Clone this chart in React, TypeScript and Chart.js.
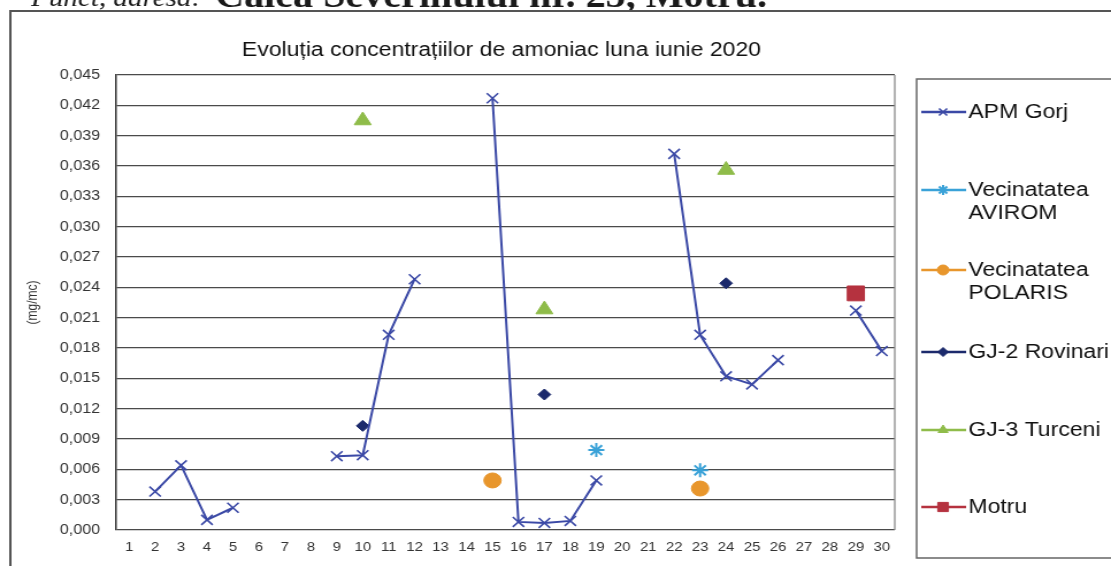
import React, { useEffect, useRef } from 'react';
import { Chart, registerables } from 'chart.js';
import { drawPoint } from 'chart.js/helpers';

Chart.register(...registerables);

// ---- data ----
const DAYS = ['1','2','3','4','5','6','7','8','9','10','11','12','13','14','15','16','17','18','19','20','21','22','23','24','25','26','27','28','29','30'];
const Y_TICKS = [0, 0.003, 0.006, 0.009, 0.012, 0.015, 0.018, 0.021, 0.024, 0.027, 0.030, 0.033, 0.036, 0.039, 0.042, 0.045];

const APM_GORJ = [null, 0.0038, 0.0064, 0.0010, 0.0022, null, null, null, 0.0073, 0.0074, 0.0193, 0.0248, null, null, 0.0427, 0.0008, 0.0007, 0.0009, 0.0049, null, null, 0.0372, 0.0193, 0.0152, 0.0144, 0.0168, null, null, 0.0217, 0.0177];

const AVIROM_DAYS = ['19', '23'];
const AVIROM_VALUES = [0.0079, 0.0059];
const POLARIS_DAYS = ['15', '23'];
const POLARIS_VALUES = [0.0049, 0.0041];
const ROVINARI_DAYS = ['10', '17', '24'];
const ROVINARI_VALUES = [0.0103, 0.0134, 0.0244];
const TURCENI_DAYS = ['10', '17', '24'];
const TURCENI_VALUES = [0.0405, 0.0218, 0.0356];
const MOTRU_DAYS = ['29'];
const MOTRU_VALUES = [0.0234];

const TITLE = 'Evoluția concentrațiilor de amoniac luna iunie 2020';
const Y_TITLE = '(mg/mc)';
const HEADER_LEFT = 'Punct, adresa:';
const HEADER_RIGHT = 'Calea Severinului nr. 25, Motru.';

// ---- layout (internal canvas coordinates; canvas is stretched horizontally) ----
const CANVAS_W = 966;
const CANVAS_H = 566;
const FONT = '"Liberation Sans", Arial, sans-serif';

const pts = (days: string[], vals: number[]) => days.map((d, i) => ({ x: d, y: vals[i] }));

const SERIES = [
  { label: ['APM Gorj'], color: '#3b49a6', style: 'crossRot', radius: 7, legendRadius: 5, bw: 1.6, legendY: 112 },
  { label: ['Vecinatatea', 'AVIROM'], color: '#3aa2d8', style: 'star', radius: 7, legendRadius: 5, bw: 2, legendY: 190 },
  { label: ['Vecinatatea', 'POLARIS'], color: '#e8962c', style: 'circle', radius: 7.5, legendRadius: 5, bw: 1, legendY: 270 },
  { label: ['GJ-2 Rovinari'], color: '#1c2a6c', style: 'rectRot', radius: 5.5, legendRadius: 4.5, bw: 1, legendY: 352 },
  { label: ['GJ-3 Turceni'], color: '#8fbc4a', style: 'triangle', radius: 8.5, legendRadius: 5, bw: 1, legendY: 430 },
  { label: ['Motru'], color: '#b5323f', style: 'rect', radius: 10.5, legendRadius: 6.5, bw: 1, legendY: 507 },
];

const HEADER_FAMILY = '"Liberation Serif", serif';

function fitSize(ctx: CanvasRenderingContext2D, text: string, style: string, width: number) {
  ctx.font = `${style} 20px ${HEADER_FAMILY}`;
  return (20 * width) / ctx.measureText(text).width;
}

const decorPlugin = {
  id: 'decor',
  beforeDraw(chart: any) {
    const ctx = chart.ctx;
    ctx.save();
    ctx.fillStyle = '#ffffff';
    ctx.fillRect(0, 0, chart.width, chart.height);
    // header text of the document (cut off at top)
    ctx.fillStyle = '#1a1a1a';
    ctx.textBaseline = 'alphabetic';
    ctx.textAlign = 'left';
    const sizeR = fitSize(ctx, HEADER_RIGHT, 'bold', 480);
    ctx.font = `bold ${sizeR}px ${HEADER_FAMILY}`;
    ctx.fillText(HEADER_RIGHT, 187, 7);
    const sizeL = fitSize(ctx, HEADER_LEFT, 'italic', 148);
    ctx.font = `italic ${sizeL}px ${HEADER_FAMILY}`;
    ctx.fillText(HEADER_LEFT, 27, 6);
    // outer frame
    ctx.fillStyle = '#ffffff';
    ctx.fillRect(0, 10, chart.width, chart.height);
    ctx.strokeStyle = '#555';
    ctx.lineWidth = 2;
    ctx.beginPath();
    ctx.moveTo(9, CANVAS_H + 5);
    ctx.lineTo(9, 11);
    ctx.lineTo(CANVAS_W + 5, 11);
    ctx.stroke();
    // title
    ctx.fillStyle = '#111';
    ctx.font = `20px ${FONT}`;
    ctx.textAlign = 'center';
    ctx.textBaseline = 'middle';
    ctx.fillText(TITLE, 436, 50);
    ctx.restore();
  },
  beforeDatasetsDraw(chart: any) {
    const { ctx, chartArea } = chart;
    ctx.save();
    ctx.strokeStyle = '#8a8a8a';
    ctx.lineWidth = 1.3;
    ctx.beginPath();
    ctx.moveTo(chartArea.right, chartArea.top);
    ctx.lineTo(chartArea.right, chartArea.bottom);
    ctx.stroke();
    ctx.restore();
  },
  afterDraw(chart: any) {
    const ctx = chart.ctx;
    ctx.save();
    // legend box
    ctx.strokeStyle = '#666';
    ctx.lineWidth = 1.5;
    ctx.beginPath();
    ctx.moveTo(CANVAS_W + 5, 79);
    ctx.lineTo(797, 79);
    ctx.lineTo(797, 558);
    ctx.lineTo(CANVAS_W + 5, 558);
    ctx.stroke();
    SERIES.forEach((s) => {
      const y = s.legendY;
      ctx.strokeStyle = s.color;
      ctx.lineWidth = 2.5;
      ctx.beginPath();
      ctx.moveTo(801, y);
      ctx.lineTo(840, y);
      ctx.stroke();
      ctx.fillStyle = s.color;
      ctx.strokeStyle = s.color;
      ctx.lineWidth = s.bw;
      drawPoint(ctx, { pointStyle: s.style, radius: s.legendRadius, rotation: 0, borderWidth: s.bw }, 820, y);
      ctx.fillStyle = '#111';
      ctx.font = `20px ${FONT}`;
      ctx.textAlign = 'left';
      ctx.textBaseline = 'middle';
      s.label.forEach((line, i) => ctx.fillText(line, 842, y + i * 23));
    });
    ctx.restore();
  },
};

export default function App() {
  const ref = useRef<HTMLCanvasElement>(null);
  useEffect(() => {
    if (!ref.current) return;
    const mk = (i: number, data: any, showLine: boolean) => {
      const s = SERIES[i];
      return {
        label: s.label.join(' '),
        data,
        showLine,
        spanGaps: false,
        borderColor: s.color,
        backgroundColor: s.color,
        borderWidth: 2,
        pointStyle: s.style,
        pointRadius: s.radius,
        pointHoverRadius: s.radius,
        pointBorderWidth: s.bw,
        pointBorderColor: s.color,
        pointBackgroundColor: s.color,
      };
    };
    const chart = new Chart(ref.current, {
      type: 'line',
      data: {
        labels: DAYS,
        datasets: [
          mk(0, APM_GORJ, true),
          mk(1, pts(AVIROM_DAYS, AVIROM_VALUES), false),
          mk(2, pts(POLARIS_DAYS, POLARIS_VALUES), false),
          mk(3, pts(ROVINARI_DAYS, ROVINARI_VALUES), false),
          mk(4, pts(TURCENI_DAYS, TURCENI_VALUES), false),
          mk(5, pts(MOTRU_DAYS, MOTRU_VALUES), false),
        ],
      },
      options: {
        responsive: false,
        animation: false,
        devicePixelRatio: 1,
        layout: { padding: { left: 0, top: 75, right: CANVAS_W - 778, bottom: 0 } },
        plugins: { legend: { display: false }, title: { display: false }, tooltip: { enabled: false } },
        elements: { line: { tension: 0 } },
        scales: {
          x: {
            type: 'category',
            offset: true,
            grid: { display: false, drawTicks: false },
            border: { display: false },
            ticks: { font: { family: FONT, size: 13 }, color: '#333', padding: 10, maxRotation: 0, autoSkip: false },
            afterFit: (s: any) => { s.height = 36; },
          },
          y: {
            min: 0,
            max: 0.045,
            afterBuildTicks: (s: any) => { s.ticks = Y_TICKS.map((v) => ({ value: v })); },
            ticks: {
              callback: (v: any) => Number(v).toFixed(3).replace('.', ','),
              padding: 14,
              font: { family: FONT, size: 14 },
              color: '#333',
            },
            grid: { color: '#4a4a4a', lineWidth: 1.3, drawTicks: false },
            border: { display: true, color: '#333', width: 1.5 },
            title: { display: true, text: Y_TITLE, font: { family: FONT, size: 12 }, color: '#333', padding: { top: 21, bottom: 0 } },
            afterFit: (s: any) => { s.width = 101; },
          },
        },
      },
      plugins: [decorPlugin],
    } as any);
    return () => chart.destroy();
  }, []);
  return (
    <div style={{ position: 'fixed', left: 0, top: 0, width: 1111, height: 566, overflow: 'hidden', background: '#fff' }}>
      <canvas ref={ref} width={CANVAS_W} height={CANVAS_H} style={{ width: '1111px', height: '566px', display: 'block' }} />
    </div>
  );
}
